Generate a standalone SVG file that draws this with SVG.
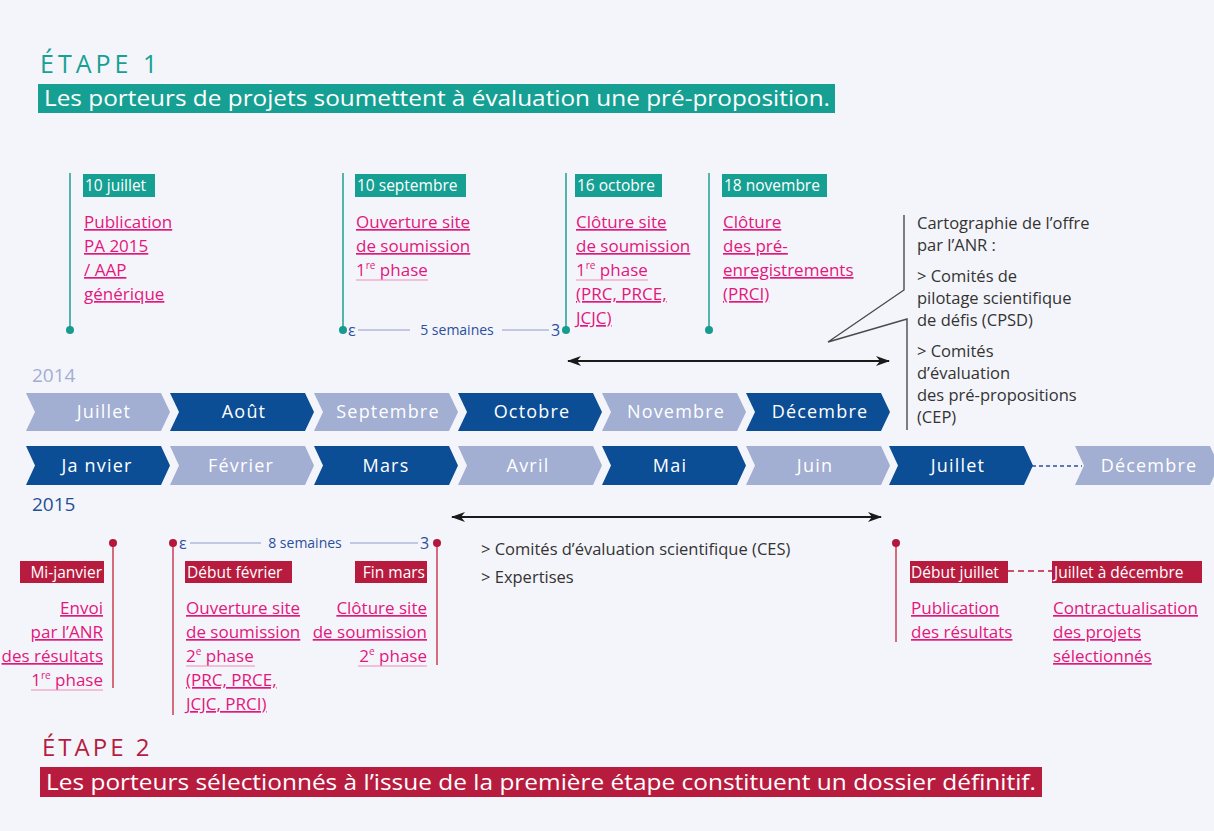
<svg xmlns="http://www.w3.org/2000/svg" width="1214" height="831" viewBox="0 0 1214 831">
<defs>
<marker id="ah" viewBox="0 0 14 10" refX="13" refY="5" markerWidth="14" markerHeight="10" markerUnits="userSpaceOnUse" orient="auto-start-reverse">
<path d="M0,0 L14,5 L0,10 L4,5 Z" fill="#1a1a1a"/>
</marker>
</defs>
<style>
text{font-family:"Open Sans","Noto Sans","Liberation Sans",sans-serif}
.etape1{fill:#17a094;font-size:25px;letter-spacing:4px}
.etape2{fill:#b71c3f;font-size:24px;letter-spacing:3px}
.ban{fill:#fff;font-size:21px}
.tl{fill:#fff;font-size:15.5px}
.pk{fill:#e3177d;font-size:17px;text-decoration:underline;text-decoration-color:#ef8cbb}
.pkn{fill:#e3177d;font-size:17px}
.ul{stroke:#ef8cbb;stroke-width:1.2}
.sup{font-size:10px}
.dk{fill:#333;font-size:16.5px}
.yr14{fill:#a3aed3;font-size:19px}
.yr15{fill:#1f4f98;font-size:19px}
.mo{fill:#fff;font-size:18px;letter-spacing:1.2px;text-anchor:middle}
.dkb{fill:#0b4e96}
.ltb{fill:#a2aed2}
.tline{stroke:#2aa598;stroke-width:1.6}
.tdot{fill:#169c8f}
.rline{stroke:#cc4a5e;stroke-width:1.6}
.rdot{fill:#b3183c}
.trect{fill:#16a093}
.rrect{fill:#b71c3f}
.sem{fill:#2b4f9e;font-size:14px}
.semg{fill:#2b4f9e;font-size:16px}
.semline{stroke:#8c9ccc;stroke-width:1}
</style>
<rect x="0" y="0" width="1214" height="831" fill="#f4f5fa"/>

<g id="etape1">
<text class="etape1" x="40" y="73">ÉTAPE 1</text>
<rect x="38" y="84" width="797" height="29" class="trect"/>
<text class="ban" x="44" y="106" textLength="786" lengthAdjust="spacingAndGlyphs">Les porteurs de projets soumettent à évaluation une pré-proposition.</text>
</g>

<g id="m-10juillet">
<line x1="70" y1="173" x2="70" y2="330" class="tline"/>
<circle cx="70" cy="330" r="4" class="tdot"/>
<rect x="83" y="174" width="72" height="23" class="trect"/>
<text class="tl" x="85" y="191">10 juillet</text>
<text class="pk" x="84" y="228">Publication</text>
<text class="pk" x="84" y="252">PA 2015</text>
<text class="pk" x="84" y="276">/ AAP</text>
<text class="pk" x="84" y="300">générique</text>
</g>

<g id="m-10septembre">
<line x1="343" y1="173" x2="343" y2="330" class="tline"/>
<circle cx="343" cy="330" r="4" class="tdot"/>
<rect x="355" y="174" width="111" height="23" class="trect"/>
<text class="tl" x="357" y="191">10 septembre</text>
<text class="pk" x="356" y="228">Ouverture site</text>
<text class="pk" x="356" y="252">de soumission</text>
<text class="pkn" x="356" y="276">1<tspan class="sup" baseline-shift="super">re</tspan> phase</text>
<line x1="356" y1="280" x2="428" y2="280" class="ul"/>
</g>

<g id="m-16octobre">
<line x1="566" y1="173" x2="566" y2="330" class="tline"/>
<circle cx="566" cy="330" r="4" class="tdot"/>
<rect x="575" y="174" width="87" height="23" class="trect"/>
<text class="tl" x="577" y="191">16 octobre</text>
<text class="pk" x="576" y="228">Clôture site</text>
<text class="pk" x="576" y="252">de soumission</text>
<text class="pkn" x="576" y="276">1<tspan class="sup" baseline-shift="super">re</tspan> phase</text>
<line x1="576" y1="280" x2="648" y2="280" class="ul"/>
<text class="pk" x="576" y="300">(PRC, PRCE,</text>
<text class="pk" x="576" y="324">JCJC)</text>
</g>

<g id="m-18novembre">
<line x1="709" y1="173" x2="709" y2="330" class="tline"/>
<circle cx="709" cy="330" r="4" class="tdot"/>
<rect x="722" y="174" width="105" height="23" class="trect"/>
<text class="tl" x="724" y="191">18 novembre</text>
<text class="pk" x="723" y="228">Clôture</text>
<text class="pk" x="723" y="252">des pré-</text>
<text class="pk" x="723" y="276">enregistrements</text>
<text class="pk" x="723" y="300">(PRCI)</text>
</g>

<g id="duree-5semaines">
<text class="semg" x="348" y="336">ε</text>
<line x1="358" y1="330" x2="410" y2="330" class="semline"/>
<text class="sem" x="457" y="335" text-anchor="middle">5 semaines</text>
<line x1="502" y1="330" x2="549" y2="330" class="semline"/>
<text class="semg" x="551" y="336">3</text>
</g>

<g id="callout-cartographie">
<polyline points="904,215 904,290 828,342 907,319 907,430" fill="none" stroke="#4a4a4a" stroke-width="1.4"/>
<text class="dk" x="917" y="229">Cartographie de l’offre</text>
<text class="dk" x="917" y="251">par l’ANR :</text>
<text class="dk" x="917" y="282">&gt; Comités de</text>
<text class="dk" x="917" y="304">pilotage scientifique</text>
<text class="dk" x="917" y="326">de défis (CPSD)</text>
<text class="dk" x="917" y="357">&gt; Comités</text>
<text class="dk" x="917" y="379">d’évaluation</text>
<text class="dk" x="917" y="401">des pré-propositions</text>
<text class="dk" x="917" y="423">(CEP)</text>
</g>

<g id="connectors">
<line x1="568" y1="361" x2="889" y2="361" stroke="#1a1a1a" stroke-width="2" marker-start="url(#ah)" marker-end="url(#ah)"/>
<line x1="452" y1="517" x2="881" y2="517" stroke="#1a1a1a" stroke-width="2" marker-start="url(#ah)" marker-end="url(#ah)"/>
<line x1="1032" y1="466" x2="1082" y2="466" stroke="#2b4f9e" stroke-width="1.5" stroke-dasharray="4 3"/>
<line x1="1008" y1="571" x2="1052" y2="571" stroke="#b71c3f" stroke-width="1.6" stroke-dasharray="6 4"/>
</g>

<g id="annee-2014">
<text class="yr14" x="32" y="382">2014</text>
<polygon class="ltb" points="26,393 161,393 170,412 161,431 26,431 35,412"/>
<text class="mo" x="104" y="418">Juillet</text>
<polygon class="dkb" points="170,393 305,393 314,412 305,431 170,431 179,412"/>
<text class="mo" x="244" y="418">Août</text>
<polygon class="ltb" points="314,393 449,393 458,412 449,431 314,431 323,412"/>
<text class="mo" x="388" y="418">Septembre</text>
<polygon class="dkb" points="458,393 593,393 602,412 593,431 458,431 467,412"/>
<text class="mo" x="532" y="418">Octobre</text>
<polygon class="ltb" points="602,393 737,393 746,412 737,431 602,431 611,412"/>
<text class="mo" x="676" y="418">Novembre</text>
<polygon class="dkb" points="746,393 881,393 890,412 881,431 746,431 755,412"/>
<text class="mo" x="820" y="418">Décembre</text>
</g>

<g id="annee-2015">
<polygon class="dkb" points="26,446 161,446 170,465.5 161,485 26,485 35,465.5"/>
<text class="mo" x="97" y="472">Ja nvier</text>
<polygon class="ltb" points="170,446 305,446 314,465.5 305,485 170,485 179,465.5"/>
<text class="mo" x="241" y="472">Février</text>
<polygon class="dkb" points="314,446 449,446 458,465.5 449,485 314,485 323,465.5"/>
<text class="mo" x="386" y="472">Mars</text>
<polygon class="ltb" points="458,446 593,446 602,465.5 593,485 458,485 467,465.5"/>
<text class="mo" x="528" y="472">Avril</text>
<polygon class="dkb" points="602,446 737,446 746,465.5 737,485 602,485 611,465.5"/>
<text class="mo" x="670" y="472">Mai</text>
<polygon class="ltb" points="746,446 881,446 890,465.5 881,485 746,485 755,465.5"/>
<text class="mo" x="815" y="472">Juin</text>
<polygon class="dkb" points="889,446 1024,446 1033,465.5 1024,485 889,485 898,465.5"/>
<text class="mo" x="958" y="472">Juillet</text>
<polygon class="ltb" points="1075,446 1210,446 1219,465.5 1210,485 1075,485 1084,465.5"/>
<text class="mo" x="1149" y="472">Décembre</text>
<text class="yr15" x="32" y="511">2015</text>
</g>

<g id="m-mijanvier">
<line x1="113" y1="543" x2="113" y2="688" class="rline"/>
<circle cx="113" cy="543" r="4" class="rdot"/>
<rect x="20" y="561" width="84" height="22" class="rrect"/>
<text class="tl" x="102" y="578" text-anchor="end">Mi-janvier</text>
<text class="pk" x="103" y="614" text-anchor="end">Envoi</text>
<text class="pk" x="103" y="638" text-anchor="end">par l’ANR</text>
<text class="pk" x="103" y="662" text-anchor="end">des résultats</text>
<text class="pkn" x="103" y="686" text-anchor="end">1<tspan class="sup" baseline-shift="super">re</tspan> phase</text>
<line x1="31" y1="690" x2="103" y2="690" class="ul"/>
</g>

<g id="m-debutfevrier">
<line x1="173" y1="543" x2="173" y2="715" class="rline"/>
<circle cx="173" cy="543" r="4" class="rdot"/>
<rect x="185" y="561" width="107" height="22" class="rrect"/>
<text class="tl" x="187" y="578">Début février</text>
<text class="pk" x="186" y="614">Ouverture site</text>
<text class="pk" x="186" y="638">de soumission</text>
<text class="pkn" x="186" y="662">2<tspan class="sup" baseline-shift="super">e</tspan> phase</text>
<line x1="186" y1="666" x2="255" y2="666" class="ul"/>
<text class="pk" x="186" y="686">(PRC, PRCE,</text>
<text class="pk" x="186" y="710">JCJC, PRCI)</text>
</g>

<g id="duree-8semaines">
<text class="semg" x="179" y="549">ε</text>
<line x1="190" y1="543" x2="261" y2="543" class="semline"/>
<text class="sem" x="305" y="548" text-anchor="middle">8 semaines</text>
<line x1="350" y1="543" x2="418" y2="543" class="semline"/>
<text class="semg" x="420" y="549">3</text>
</g>

<g id="m-finmars">
<line x1="437" y1="543" x2="437" y2="665" class="rline"/>
<circle cx="437" cy="543" r="4" class="rdot"/>
<rect x="355" y="561" width="72" height="22" class="rrect"/>
<text class="tl" x="425" y="578" text-anchor="end">Fin mars</text>
<text class="pk" x="427" y="614" text-anchor="end">Clôture site</text>
<text class="pk" x="427" y="638" text-anchor="end">de soumission</text>
<text class="pkn" x="427" y="662" text-anchor="end">2<tspan class="sup" baseline-shift="super">e</tspan> phase</text>
<line x1="358" y1="666" x2="427" y2="666" class="ul"/>
</g>

<g id="ces">
<text class="dk" x="481" y="555">&gt; Comités d’évaluation scientifique (CES)</text>
<text class="dk" x="481" y="583">&gt; Expertises</text>
</g>

<g id="m-debutjuillet">
<line x1="896" y1="543" x2="896" y2="642" class="rline"/>
<circle cx="896" cy="543" r="4" class="rdot"/>
<rect x="910" y="561" width="98" height="22" class="rrect"/>
<text class="tl" x="911" y="578">Début juillet</text>
<text class="pk" x="911" y="614">Publication</text>
<text class="pk" x="911" y="638">des résultats</text>
</g>

<g id="m-juilletdecembre">
<rect x="1052" y="561" width="150" height="22" class="rrect"/>
<text class="tl" x="1054" y="578">Juillet à décembre</text>
<text class="pk" x="1053" y="614">Contractualisation</text>
<text class="pk" x="1053" y="638">des projets</text>
<text class="pk" x="1053" y="662">sélectionnés</text>
</g>

<g id="etape2">
<text class="etape2" x="42" y="756">ÉTAPE 2</text>
<rect x="40" y="767" width="1002" height="30" class="rrect"/>
<text class="ban" x="46" y="790" textLength="990" lengthAdjust="spacingAndGlyphs">Les porteurs sélectionnés à l’issue de la première étape constituent un dossier définitif.</text>
</g>
</svg>
